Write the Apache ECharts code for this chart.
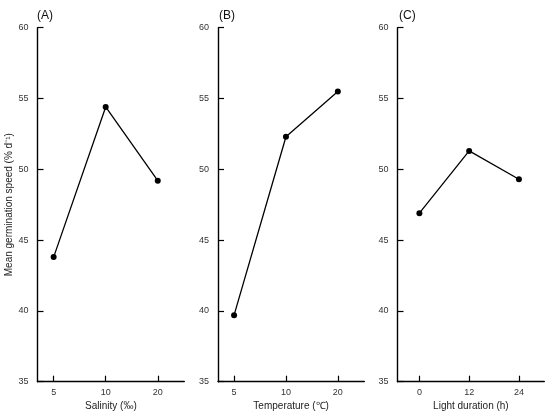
<!DOCTYPE html>
<html>
<head>
<meta charset="utf-8">
<script src="https://cdn.jsdelivr.net/npm/echarts@6/dist/echarts.min.js"></script>
<style>html,body{margin:0;padding:0;background:#fff;}#c{width:550px;height:419px;}</style>
</head>
<body>
<div id="c"></div>
<script>
var salinityCats = ['5', '10', '20'];
var salinityVals = [43.8, 54.4, 49.2];
var tempCats = ['5', '10', '20'];
var tempVals = [39.7, 52.3, 55.5];
var lightCats = ['0', '12', '24'];
var lightVals = [46.9, 51.3, 49.3];
var panelLabels = ['(A)', '(B)', '(C)'];
var xNames = ['Salinity (‰)', 'Temperature (℃)', 'Light duration (h)'];
var yName = 'Mean germination speed (% d\u207B\u00B9)';
var yMin = 35, yMax = 60, yStep = 5;

var FONT = 'Liberation Sans, Arial, sans-serif';
var panels = [
  {cats: salinityCats, vals: salinityVals, left: 37.5, right: 365.7, xmin: -0.31, xmax: 2.51, tx: 32},
  {cats: tempCats, vals: tempVals, left: 218, right: 185.7, xmin: -0.31, xmax: 2.51, tx: 214},
  {cats: lightCats, vals: lightVals, left: 397.5, right: 5.7, xmin: -0.44, xmax: 2.51, tx: 394}
];

var grids = [], xAxes = [], yAxes = [], series = [], titles = [];
panels.forEach(function (p, k) {
  grids.push({left: p.left, right: p.right, top: 27.7, bottom: 37.3, containLabel: false});
  var idx = p.cats.map(function (c, i) { return i; });
  xAxes.push({
    type: 'value', gridIndex: k, min: p.xmin, max: p.xmax,
    name: xNames[k], nameLocation: 'middle', nameGap: 20,
    nameTextStyle: {fontFamily: FONT, fontSize: 10, color: '#222'},
    axisLine: {show: true, onZero: false, lineStyle: {color: '#000', width: 1.4}},
    axisTick: {show: true, inside: true, length: 6, customValues: idx, lineStyle: {color: '#000', width: 1.2}},
    axisLabel: {show: true, customValues: idx, margin: 6, fontFamily: FONT, fontSize: 9, color: '#333',
      formatter: (function (cats) { return function (v) { return cats[Math.round(v)]; }; })(p.cats)},
    splitLine: {show: false}
  });
  yAxes.push({
    type: 'value', gridIndex: k, min: yMin, max: yMax, interval: yStep,
    name: k === 0 ? yName : '', nameLocation: 'middle', nameGap: 21,
    nameTextStyle: {fontFamily: FONT, fontSize: 10, color: '#222'},
    axisLine: {show: true, onZero: false, lineStyle: {color: '#000', width: 1.4}},
    axisTick: {show: true, inside: true, length: 6, lineStyle: {color: '#000', width: 1.2}},
    axisLabel: {show: true, margin: 9, fontFamily: FONT, fontSize: 9, color: '#333'},
    splitLine: {show: false}
  });
  series.push({
    type: 'line', xAxisIndex: k, yAxisIndex: k,
    data: p.vals.map(function (v, i) { return [i, v]; }),
    symbol: 'circle', symbolSize: 6, showSymbol: true,
    itemStyle: {color: '#000'},
    lineStyle: {color: '#000', width: 1.3}
  });
  titles.push({text: panelLabels[k], left: p.tx, top: 5,
    textStyle: {fontFamily: FONT, fontSize: 12, fontWeight: 'normal', color: '#111'}});
});

var chart = echarts.init(document.getElementById('c'), null, {renderer: 'canvas'});
chart.setOption({
  animation: false,
  backgroundColor: '#fff',
  title: titles,
  grid: grids,
  xAxis: xAxes,
  yAxis: yAxes,
  series: series
});
</script>
</body>
</html>
